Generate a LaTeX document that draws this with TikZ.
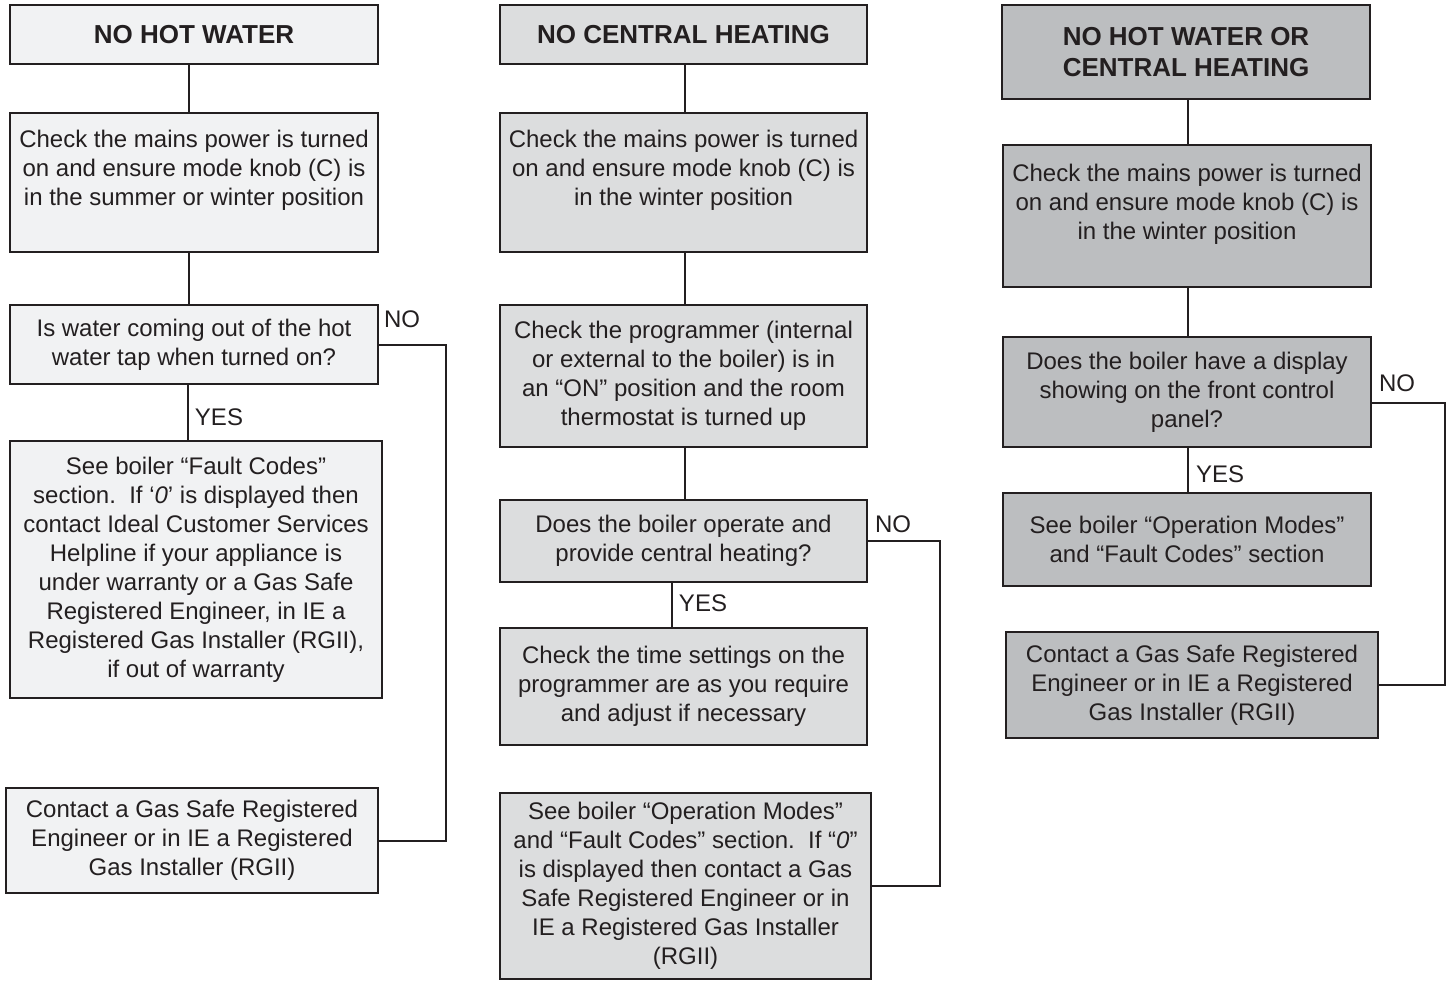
\documentclass[tikz,border=0pt]{standalone}
\usepackage{fontspec}
\setmainfont{Liberation Sans}
\definecolor{ink}{HTML}{231F20}
\definecolor{fillA}{HTML}{F1F2F3}
\definecolor{fillB}{HTML}{DCDDDE}
\definecolor{fillC}{HTML}{BCBEC0}
\tikzset{
  box/.style={draw=ink, line width=1pt, inner sep=0pt, align=center, text=ink,
    font=\fontsize{12}{14.5}\selectfont},
  ttl/.style={box, font=\fontsize{13}{15.5}\selectfont\bfseries},
  lbl/.style={text=ink, inner sep=0pt, font=\fontsize{12}{14.5}\selectfont},
  conn/.style={draw=ink, line width=1pt},
}
\begin{document}
\begin{tikzpicture}[x=0.5pt, y=-0.5pt]
\useasboundingbox (0,0) rectangle (1449,980);
% ---------- column 1
\node[ttl, fill=fillA, minimum width=184pt, minimum height=29.5pt] (t1) at (194,34.5) {NO HOT WATER};
\node[box, fill=fillA, minimum width=184pt, minimum height=69.5pt] (b12) at (194,182.5)
  {Check the mains power is turned\\on and ensure mode knob (C) is\\in the summer or winter position\\\mbox{}};
\node[box, fill=fillA, minimum width=184pt, minimum height=39.5pt] (b13) at (194,344.5)
  {Is water coming out of the hot\\water tap when turned on?};
\node[box, fill=fillA, minimum width=186pt, minimum height=128.5pt] (b14) at (196,569.5)
  {See boiler “Fault Codes”\\section.\ \ If ‘\textit{0}’ is displayed then\\contact Ideal Customer Services\\Helpline if your appliance is\\under warranty or a Gas Safe\\Registered Engineer, in IE a\\Registered Gas Installer (RGII),\\if out of warranty};
\node[box, fill=fillA, minimum width=186pt, minimum height=52.5pt] (b15) at (192,840.5)
  {Contact a Gas Safe Registered\\Engineer or in IE a Registered\\Gas Installer (RGII)};
\draw[conn] ([xshift=-2.5pt]t1.south) -- ([xshift=-2.5pt]b12.north);
\draw[conn] ([xshift=-2.5pt]b12.south) -- ([xshift=-2.5pt]b13.north);
\draw[conn] ([xshift=-3pt]b13.south) -- ([xshift=-4pt]b14.north);
\draw[conn] (b13.east) -- ++(67,0) |- (b15.east);
\node[lbl] (yes1) at (219,417) {YES};
\node[lbl] (no1) at (402,319) {NO};
% ---------- column 2
\node[ttl, fill=fillB, minimum width=183.5pt, minimum height=29.5pt] (t2) at (683.5,34.5) {NO CENTRAL HEATING};
\node[box, fill=fillB, minimum width=183.5pt, minimum height=69.5pt] (b22) at (683.5,182.5)
  {Check the mains power is turned\\on and ensure mode knob (C) is\\in the winter position\\\mbox{}};
\node[box, fill=fillB, minimum width=183.5pt, minimum height=71pt] (b23) at (683.5,376)
  {Check the programmer (internal\\or external to the boiler) is in\\an “ON” position and the room\\thermostat is turned up};
\node[box, fill=fillB, minimum width=183.5pt, minimum height=41pt] (b24) at (683.5,541)
  {Does the boiler operate and\\provide central heating?};
\node[box, fill=fillB, minimum width=183.5pt, minimum height=58.5pt] (b25) at (683.5,686.5)
  {Check the time settings on the\\programmer are as you require\\and adjust if necessary};
\node[box, fill=fillB, minimum width=185.5pt, minimum height=93pt] (b26) at (685.5,886)
  {See boiler “Operation Modes”\\and “Fault Codes” section.\ \ If “\textit{0}”\\is displayed then contact a Gas\\Safe Registered Engineer or in\\IE a Registered Gas Installer\\(RGII)};
\draw[conn] ([xshift=0.75pt]t2.south) -- ([xshift=0.75pt]b22.north);
\draw[conn] ([xshift=0.75pt]b22.south) -- ([xshift=0.75pt]b23.north);
\draw[conn] ([xshift=0.75pt]b23.south) -- ([xshift=0.75pt]b24.north);
\draw[conn] ([xshift=-5.75pt]b24.south) -- ([xshift=-5.75pt]b25.north);
\draw[conn] (b24.east) -- ++(72,0) |- (b26.east);
\node[lbl] (yes2) at (703,603) {YES};
\node[lbl] (no2) at (893,524) {NO};
% ---------- column 3
\node[ttl, fill=fillC, minimum width=184pt, minimum height=47pt] (t3) at (1186,52) {NO HOT WATER OR\\CENTRAL HEATING};
\node[box, fill=fillC, minimum width=184pt, minimum height=71pt] (b32) at (1187,216)
  {Check the mains power is turned\\on and ensure mode knob (C) is\\in the winter position\\\mbox{}};
\node[box, fill=fillC, minimum width=184pt, minimum height=55pt] (b33) at (1187,392)
  {Does the boiler have a display\\showing on the front control\\panel?};
\node[box, fill=fillC, minimum width=184pt, minimum height=46.5pt] (b34) at (1187,539.5)
  {See boiler “Operation Modes”\\and “Fault Codes” section};
\node[box, fill=fillC, minimum width=186pt, minimum height=53pt] (b35) at (1192,685)
  {Contact a Gas Safe Registered\\Engineer or in IE a Registered\\Gas Installer (RGII)};
\draw[conn] ([xshift=1pt]t3.south) -- ([xshift=0.5pt]b32.north);
\draw[conn] ([xshift=0.5pt]b32.south) -- ([xshift=0.5pt]b33.north);
\draw[conn] ([xshift=0.5pt]b33.south) -- ([xshift=0.5pt]b34.north);
\draw[conn] ([yshift=-5.5pt]b33.east) -- ++(73,0) |- (b35.east);
\node[lbl] (yes3) at (1220,474) {YES};
\node[lbl] (no3) at (1397,383) {NO};
\end{tikzpicture}
\end{document}
